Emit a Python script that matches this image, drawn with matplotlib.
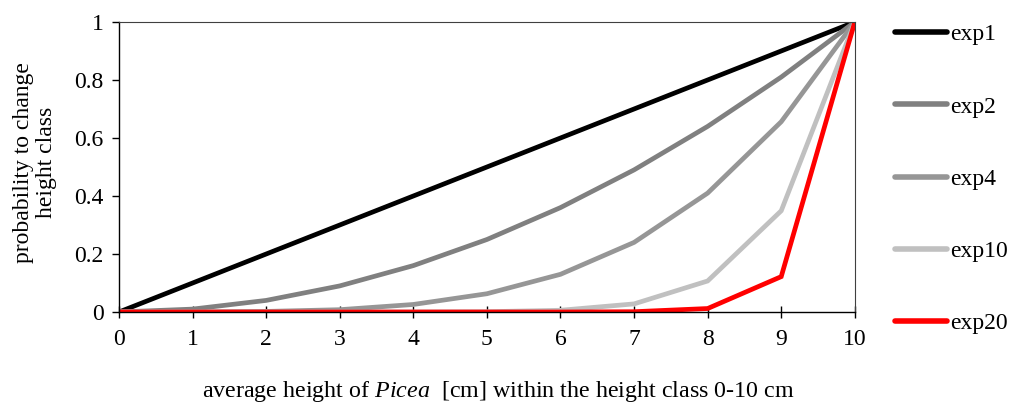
import matplotlib
matplotlib.use("Agg")
import matplotlib.pyplot as plt

plt.rcParams['font.family'] = ['Liberation Serif', 'DejaVu Serif']
plt.rcParams['mathtext.fontset'] = 'custom'
plt.rcParams['mathtext.rm'] = 'Liberation Serif'
plt.rcParams['mathtext.it'] = 'Liberation Serif:italic'

# average height within class (cm)
heights = [0, 1, 2, 3, 4, 5, 6, 7, 8, 9, 10]

# probability to change height class
exp1 = [0.0, 0.1, 0.2, 0.3, 0.4, 0.5, 0.6, 0.7, 0.8, 0.9, 1.0]
exp2 = [0.0, 0.01, 0.04, 0.09, 0.16, 0.25, 0.36, 0.49, 0.64, 0.81, 1.0]
exp4 = [0.0, 0.0, 0.002, 0.008, 0.026, 0.063, 0.13, 0.24, 0.41, 0.656, 1.0]
exp10 = [0.0, 0.0, 0.0, 0.0, 0.0, 0.001, 0.006, 0.028, 0.107, 0.349, 1.0]
exp20 = [0.0, 0.0, 0.0, 0.0, 0.0, 0.0, 0.0, 0.001, 0.012, 0.122, 1.0]

series_names = ["exp1", "exp2", "exp4", "exp10", "exp20"]
series_vals = [exp1, exp2, exp4, exp10, exp20]
colors = ["#000000", "#808080", "#969696", "#c0c0c0", "#ff0000"]

fig = plt.figure(figsize=(10.14, 4.07), dpi=100)
ax = fig.add_axes([0.1174, 0.2334, 0.7256, 0.7126])

for name, vals, col in zip(series_names, series_vals, colors):
    ax.plot(heights, vals, color=col, linewidth=3.4, label=name,
            solid_joinstyle='miter', solid_capstyle='butt')

ax.set_xlim(0, 10)
ax.set_ylim(0, 1)
ax.set_xticks(heights)
ax.set_yticks([0, 0.2, 0.4, 0.6, 0.8, 1.0])
ax.set_yticklabels(["0", "0.2", "0.4", "0.6", "0.8", "1"])

for side in ['left', 'bottom']:
    ax.spines[side].set_linewidth(1.0)
    ax.spines[side].set_color('black')
for side in ['top', 'right']:
    ax.spines[side].set_linewidth(0.8)
    ax.spines[side].set_color('#404040')

ax.tick_params(axis='x', direction='inout', length=9, width=1.0, labelsize=17, pad=8)
ax.tick_params(axis='y', direction='out', length=5, width=1.0, labelsize=17, pad=6)

ax.set_ylabel("probability to change\nheight class", fontsize=17, linespacing=1.08)
ax.yaxis.set_label_coords(-0.085, 0.515)
ax.set_xlabel("average height of $\\it{Picea}$  [cm] within the height class 0-10 cm",
              fontsize=17.3)
ax.xaxis.set_label_coords(0.515, -0.23)

leg = fig.legend(loc='upper left', bbox_to_anchor=(0.873, 0.965), frameon=False,
                 fontsize=17, handlelength=2.2, handletextpad=0.15, labelspacing=2.15,
                 borderaxespad=0)
for line in leg.get_lines():
    line.set_linewidth(4.0)
    line.set_solid_capstyle('round')

fig.savefig("out.png", dpi=100)
